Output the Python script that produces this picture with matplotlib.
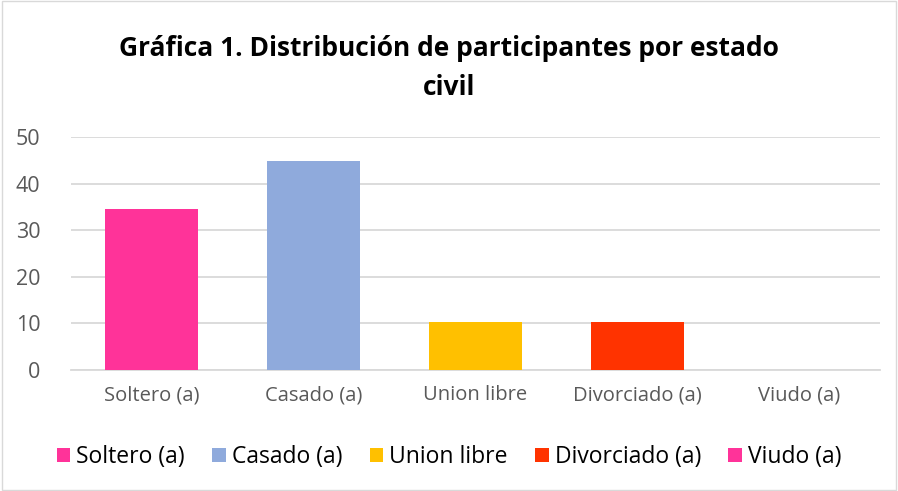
import matplotlib.pyplot as plt
from matplotlib.patches import Rectangle

categorias = ["Soltero (a)", "Casado (a)", "Union libre", "Divorciado (a)", "Viudo (a)"]
porcentajes = [34.48, 44.83, 10.34, 10.34, 0]
colores = ["#FF3399", "#8FAADC", "#FFC000", "#FF3300", "#FF3399"]
yticks = [0, 10, 20, 30, 40, 50]

plt.rcParams["font.family"] = ["Open Sans", "DejaVu Sans"]

fig = plt.figure(figsize=(8.98, 4.91), dpi=100)
ax = fig.add_axes([71 / 898, 1 - 370 / 491, 809 / 898, 233 / 491])

x = list(range(len(categorias)))
bars = ax.bar(x, porcentajes, width=0.575, color=colores, zorder=3)

ax.set_xlim(-0.5, len(categorias) - 0.5)
ax.set_ylim(0, 50)
ax.set_yticks(yticks)
ax.set_xticks(x)
ax.set_xticklabels(categorias)
ax.tick_params(axis="both", length=0, colors="#595959")
ax.tick_params(axis="x", pad=11, labelsize=14.5)
ax.tick_params(axis="y", pad=22, labelsize=15.5)
ax.grid(axis="y", color="#D9D9D9", linewidth=1.3, zorder=0)
for s in ["top", "right", "left"]:
    ax.spines[s].set_visible(False)
ax.spines["bottom"].set_color("#D9D9D9")
ax.spines["bottom"].set_linewidth(1.3)

fig.text(0.5, 1 - 68 / 491, "Gráfica 1. Distribución de participantes por estado\ncivil",
         ha="center", va="center", fontsize=19, fontweight="bold", color="#000000",
         linespacing=1.55)

leg = fig.legend(bars, categorias, loc="center", bbox_to_anchor=(0.5, 1 - 457 / 491),
                 ncol=5, frameon=False, fontsize=16.5, handlelength=0.6, handleheight=0.6,
                 handletextpad=0.25, columnspacing=1.2)
for t in leg.get_texts():
    t.set_color("#000000")

fig.patches.append(Rectangle((0.002, 0.002), 0.996, 0.996, transform=fig.transFigure,
                             fill=False, edgecolor="#D9D9D9", linewidth=1))

fig.savefig("out.png", dpi=100)
